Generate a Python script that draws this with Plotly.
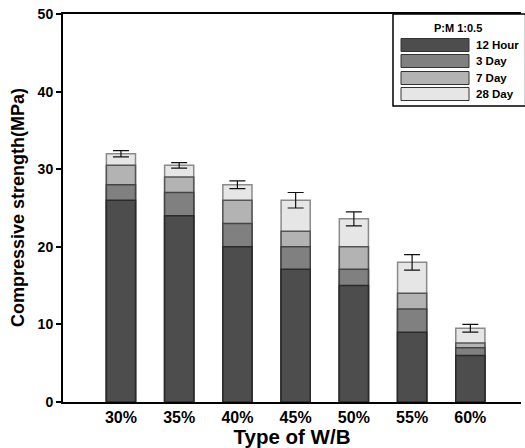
import plotly.graph_objects as go

# Water/binder ratios and compressive strength (MPa) at each curing age
wb_ratio = ["30%", "35%", "40%", "45%", "50%", "55%", "60%"]
hour_12 = [26.0, 24.0, 20.0, 17.1, 15.0, 9.0, 6.0]
day_3 = [28.0, 27.0, 23.0, 20.0, 17.1, 12.0, 7.0]
day_7 = [30.5, 29.0, 26.0, 22.0, 20.0, 14.0, 7.6]
day_28 = [32.0, 30.5, 28.0, 26.0, 23.6, 18.0, 9.5]
day_28_err = [0.4, 0.35, 0.5, 1.0, 0.9, 1.0, 0.5]

series = [
    ("28 Day", day_28, "#e6e6e6", "#8a8a8a", day_28_err),
    ("7 Day", day_7, "#b3b3b3", "#555555", None),
    ("3 Day", day_3, "#808080", "#444444", None),
    ("12 Hour", hour_12, "#4d4d4d", "#2a2a2a", None),
]

FONT = "Liberation Sans, Arial, sans-serif"

fig = go.Figure()
for name, vals, fill, edge, err in series:
    kw = {}
    if err is not None:
        kw["error_y"] = dict(type="data", array=err, visible=True,
                             color="#111111", thickness=1.2, width=8)
    fig.add_trace(go.Bar(
        x=list(range(len(wb_ratio))), y=vals, name=name,
        marker=dict(color=fill, line=dict(color=edge, width=1.5)),
        width=0.5, showlegend=False, **kw))

fig.update_layout(
    width=525, height=448,
    margin=dict(l=63, r=4, t=14, b=46),
    barmode="overlay",
    plot_bgcolor="white", paper_bgcolor="white",
    font=dict(family=FONT, color="black"),
    xaxis=dict(
        range=[-0.995, 6.87],
        tickmode="array", tickvals=list(range(len(wb_ratio))), ticktext=wb_ratio,
        tickfont=dict(size=16, family=FONT, weight="bold"),
        showline=True, linecolor="black", linewidth=2, mirror=True,
        ticks="", showgrid=False, zeroline=False,
        title=dict(text="<b>Type of W/B</b>", font=dict(size=20.5), standoff=1),
    ),
    yaxis=dict(
        range=[0, 50], tickvals=[0, 10, 20, 30, 40, 50],
        tickfont=dict(size=14, family=FONT, weight="bold"),
        showline=True, linecolor="black", linewidth=2,
        ticks="outside", ticklen=5, tickwidth=2, tickcolor="black",
        showgrid=False, zeroline=False,
    ),
)

# y-axis title
fig.add_annotation(
    text="<b>Compressive strength(MPa)</b>", textangle=-90,
    xref="paper", yref="paper", x=0, y=0.5, xshift=-45,
    xanchor="center", yanchor="middle",
    showarrow=False, font=dict(size=18, family=FONT),
)

# Legend box with wide swatches
PH = 388.0
PW = 458.0


def px(xp):
    return (xp - 63) / PW


def py(yp):
    return (402 - yp) / PH


fig.add_shape(type="rect", xref="paper", yref="paper",
              x0=px(393), x1=1.01, y0=py(106), y1=1.0,
              line=dict(color="black", width=1.5), fillcolor="white", layer="above")
fig.add_annotation(text="<b>P:M 1:0.5</b>", xref="paper", yref="paper",
                   x=px(458), y=py(28), xanchor="center", yanchor="middle",
                   showarrow=False, font=dict(size=11, family=FONT))
legend_order = [("12 Hour", "#4d4d4d", 45), ("3 Day", "#808080", 61),
                ("7 Day", "#b3b3b3", 78), ("28 Day", "#e6e6e6", 94)]
for name, fill, yc in legend_order:
    fig.add_shape(type="rect", xref="paper", yref="paper",
                  x0=px(401), x1=px(469), y0=py(yc + 6.5), y1=py(yc - 6.5),
                  line=dict(color="#333333", width=1), fillcolor=fill, layer="above")
    fig.add_annotation(text="<b>" + name + "</b>", xref="paper", yref="paper",
                       x=px(474), y=py(yc), xanchor="left", yanchor="middle",
                       showarrow=False, font=dict(size=11.5, family=FONT))

fig.write_html("out.html")
